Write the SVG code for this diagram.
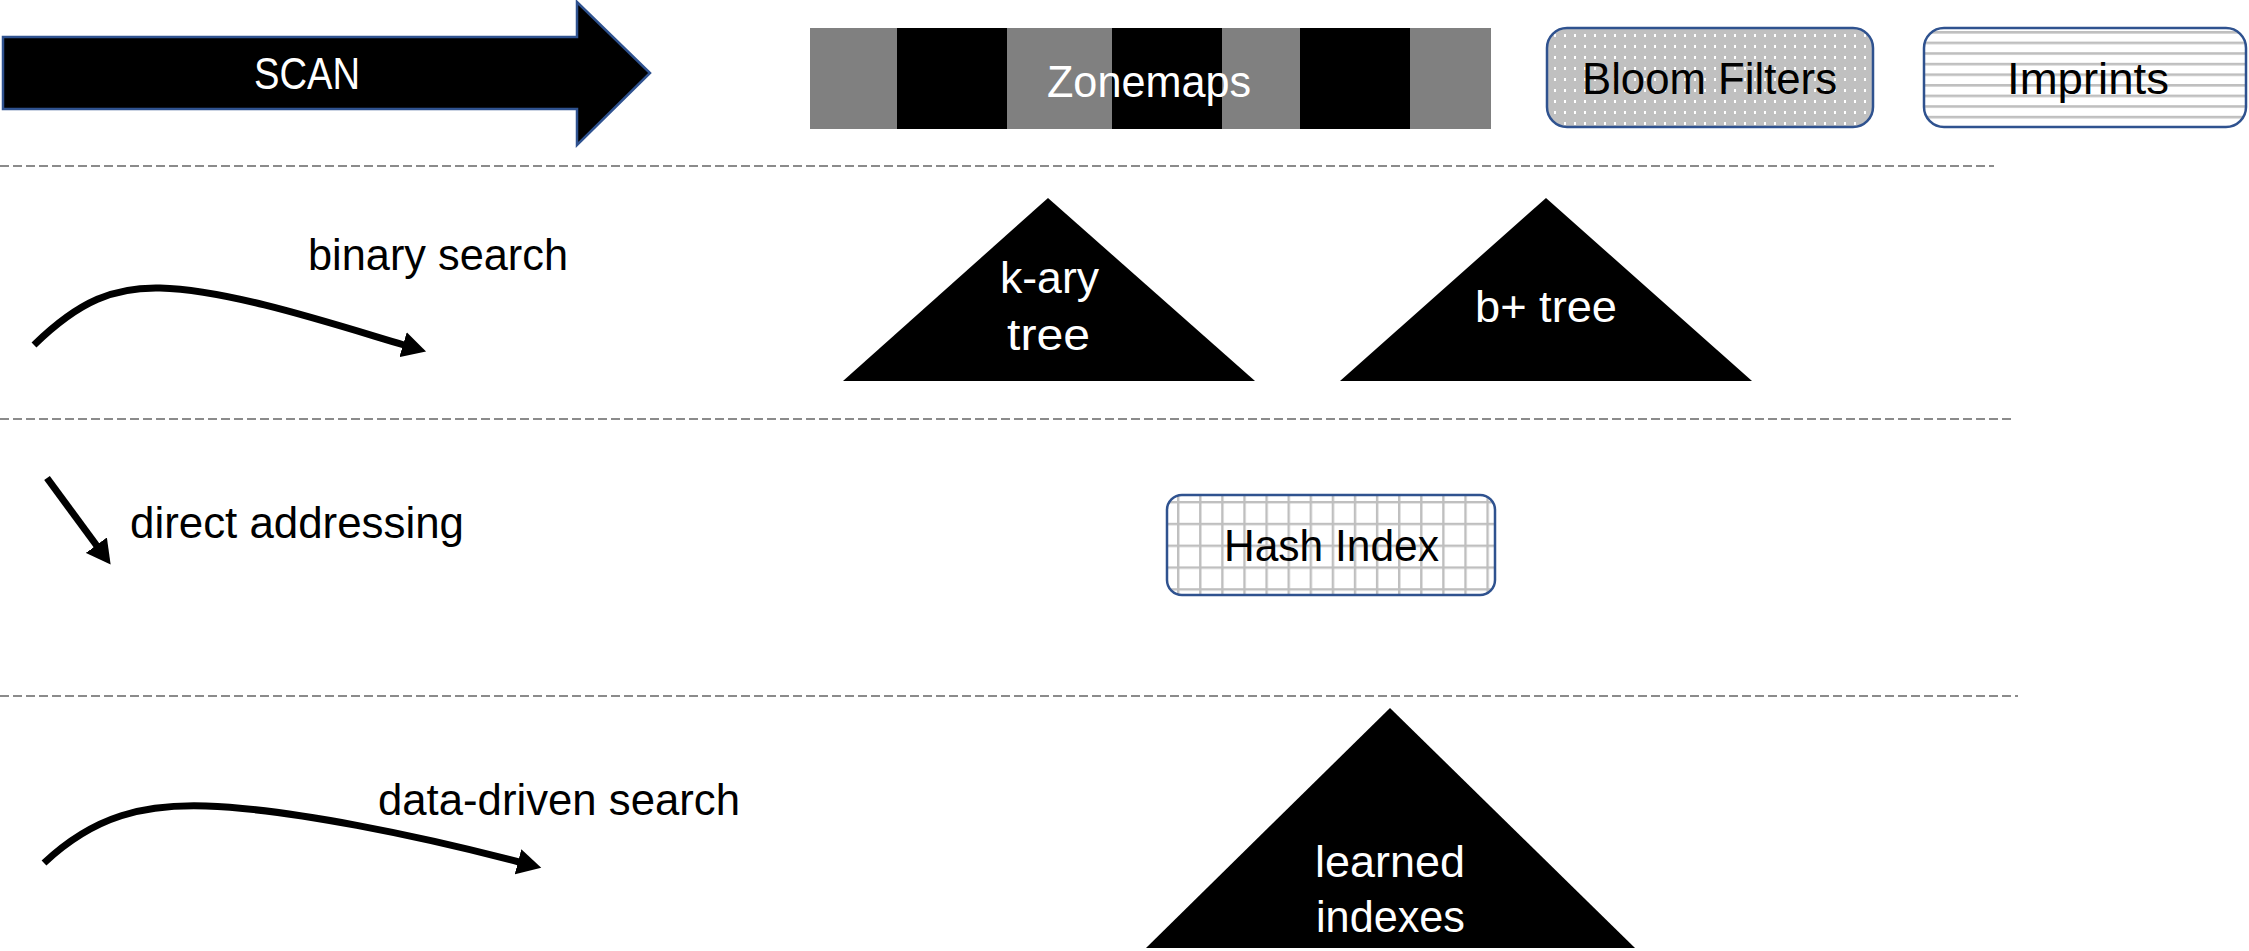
<svg xmlns="http://www.w3.org/2000/svg" width="2249" height="951" viewBox="0 0 2249 951">
<style>
text{font-family:"Liberation Sans",Arial,sans-serif;font-size:44px}
.w{fill:#fff}
.k{fill:#000}
.dash{stroke:#666;stroke-width:1.6;stroke-dasharray:9 4;fill:none}
.conn{stroke:#000;stroke-width:7;fill:none;marker-end:url(#ah)}
.box{stroke:#2F528F;stroke-width:2.5}
</style>
<defs>
<marker id="ah" markerUnits="userSpaceOnUse" markerWidth="25" markerHeight="26" viewBox="0 0 25 26" refX="1" refY="13" orient="auto">
<path d="M0,0 L24,13 L0,26 z" fill="#000"/>
</marker>
<pattern id="dots" patternUnits="userSpaceOnUse" x="1550" y="30" width="10" height="11">
<rect width="10" height="11" fill="#c0c0c0"/>
<rect x="4" y="4" width="2" height="3" fill="#fff"/>
</pattern>
<pattern id="hlines" patternUnits="userSpaceOnUse" x="0" y="31" width="20" height="10.6">
<rect width="20" height="10.6" fill="#fff"/>
<rect y="0" width="20" height="2.6" fill="#bfbfbf"/>
</pattern>
<pattern id="grid" patternUnits="userSpaceOnUse" x="1177" y="501" width="22.1" height="21.8">
<rect width="22.1" height="21.8" fill="#fff"/>
<rect x="0" y="0" width="2.4" height="21.8" fill="#bfbfbf"/>
<rect x="0" y="0" width="22.1" height="2.4" fill="#bfbfbf"/>
</pattern>
</defs>

<g id="separators">
<line class="dash" x1="0" y1="166" x2="1994" y2="166"/>
<line class="dash" x1="0" y1="419" x2="2011" y2="419"/>
<line class="dash" x1="0" y1="696" x2="2018" y2="696"/>
</g>

<g id="scan">
<polygon class="box" points="3,37 577,37 577,2 650,73 577,145 577,109 3,109" fill="#000"/>
<text class="w" x="254" y="89" textLength="106" lengthAdjust="spacingAndGlyphs">SCAN</text>
</g>

<g id="zonemaps">
<rect x="810" y="28" width="681" height="101" fill="#808080"/>
<rect x="897" y="28" width="110" height="101" fill="#000"/>
<rect x="1112" y="28" width="110" height="101" fill="#000"/>
<rect x="1300" y="28" width="110" height="101" fill="#000"/>
<text class="w" x="1047" y="97" textLength="204" lengthAdjust="spacingAndGlyphs">Zonemaps</text>
</g>

<g id="bloom">
<rect class="box" x="1547" y="28" width="326" height="99" rx="20" fill="url(#dots)"/>
<text class="k" x="1582" y="94" textLength="255" lengthAdjust="spacingAndGlyphs">Bloom Filters</text>
</g>

<g id="imprints">
<rect class="box" x="1924" y="28" width="322" height="99" rx="20" fill="url(#hlines)"/>
<text class="k" x="2007" y="94" textLength="162" lengthAdjust="spacingAndGlyphs">Imprints</text>
</g>

<g id="kary">
<polygon points="1048,198 1255,381 843,381" fill="#000"/>
<text class="w" x="1000" y="293" textLength="99" lengthAdjust="spacingAndGlyphs">k-ary</text>
<text class="w" x="1007" y="350" textLength="83" lengthAdjust="spacingAndGlyphs">tree</text>
</g>

<g id="bplus">
<polygon points="1546,198 1752,381 1340,381" fill="#000"/>
<text class="w" x="1475" y="322" textLength="142" lengthAdjust="spacingAndGlyphs">b+ tree</text>
</g>

<g id="hash">
<rect class="box" x="1167" y="495" width="328" height="100" rx="15" fill="url(#grid)"/>
<text class="k" x="1224" y="561" textLength="215" lengthAdjust="spacingAndGlyphs">Hash Index</text>
</g>

<g id="learned">
<polygon points="1390,708 1635,948 1146,948" fill="#000"/>
<text class="w" x="1315" y="877" textLength="150" lengthAdjust="spacingAndGlyphs">learned</text>
<text class="w" x="1316" y="932" textLength="149" lengthAdjust="spacingAndGlyphs">indexes</text>
</g>

<g id="labels">
<text class="k" x="308" y="270" textLength="260" lengthAdjust="spacingAndGlyphs">binary search</text>
<text class="k" x="130" y="538" textLength="334" lengthAdjust="spacingAndGlyphs">direct addressing</text>
<text class="k" x="378" y="815" textLength="362" lengthAdjust="spacingAndGlyphs">data-driven search</text>
</g>

<g id="connectors">
<path class="conn" d="M34,345 C80,300 115,287 160,288 C230,290 330,323 404,345"/>
<path class="conn" d="M47,478 L97,546"/>
<path class="conn" d="M44,863 C95,815 145,804 206,806 C290,809 420,836 519,862"/>
</g>
</svg>
